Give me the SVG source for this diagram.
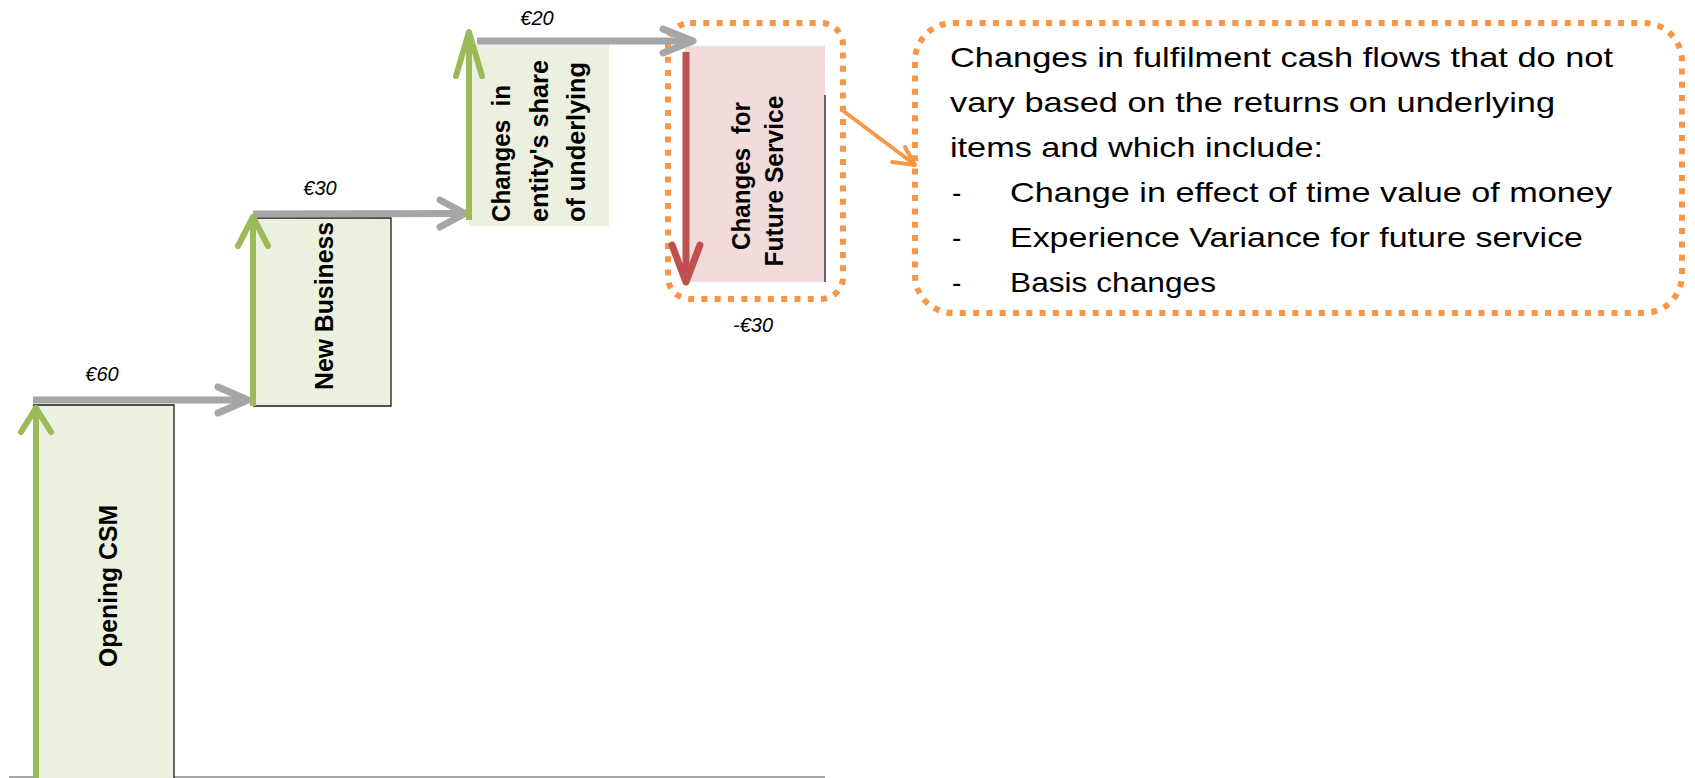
<svg xmlns="http://www.w3.org/2000/svg" width="1695" height="778" viewBox="0 0 1695 778">
<style>
.gbox{fill:#EBF1DE;stroke:none}
.pbox{fill:#F2DCDB;stroke:none}
.edge{stroke:#1a1a1a;stroke-width:1.3;fill:none}
.lbl{font-family:"Liberation Sans",Arial,sans-serif;font-weight:bold;font-size:26px;fill:#000}
.val{font-family:"Liberation Sans",Arial,sans-serif;font-style:italic;font-size:20px;fill:#000;text-anchor:middle}
.txt{font-family:"Liberation Sans",Arial,sans-serif;font-size:28px;fill:#000}
.gray{stroke:#A6A6A6;stroke-width:7;fill:none;stroke-linejoin:round}
.grayh{stroke:#A6A6A6;stroke-width:7;fill:none;stroke-linecap:round;stroke-linejoin:round}
.green{stroke:#9BBB59;stroke-width:6;fill:none}
.greenh{stroke:#9BBB59;stroke-width:6;fill:none;stroke-linecap:round;stroke-linejoin:round}
.red{stroke:#C0504D;stroke-width:7;fill:none}
.redh{stroke:#C0504D;stroke-width:7;fill:none;stroke-linecap:round;stroke-linejoin:round}
.orange{stroke:#F79646;stroke-width:4;fill:none;stroke-linecap:round;stroke-linejoin:round}
.dotted{fill:none;stroke:#F79646;stroke-width:6;stroke-dasharray:6 7.3}
.base{stroke:#A6A6A6;stroke-width:2;fill:none}
</style>

<line class="base" x1="9" y1="777" x2="825" y2="777"/>

<g id="opening-csm">
  <rect class="gbox" x="33" y="405" width="141" height="373"/>
  <polyline class="edge" points="33,405 174,405 174,778"/>
  <text class="lbl" x="117" y="586" text-anchor="middle" textLength="162" lengthAdjust="spacingAndGlyphs" transform="rotate(-90 117 586)">Opening CSM</text>
  <text class="val" x="102" y="381">€60</text>
</g>

<g id="new-business">
  <rect class="gbox" x="253" y="218" width="138" height="188"/>
  <polyline class="edge" points="253,218 391,218 391,406 253,406"/>
  <text class="lbl" x="333" y="306" text-anchor="middle" textLength="168" lengthAdjust="spacingAndGlyphs" transform="rotate(-90 333 306)">New Business</text>
  <text class="val" x="320" y="195">€30</text>
</g>

<g id="entity-share">
  <rect class="gbox" x="469" y="45" width="140" height="181"/>
  <text class="lbl" x="510" y="222" textLength="137" lengthAdjust="spacingAndGlyphs" transform="rotate(-90 510 222)" xml:space="preserve">Changes  in</text>
  <text class="lbl" x="548" y="222" textLength="162" lengthAdjust="spacingAndGlyphs" transform="rotate(-90 548 222)">entity's share</text>
  <text class="lbl" x="585" y="222" textLength="160" lengthAdjust="spacingAndGlyphs" transform="rotate(-90 585 222)">of underlying</text>
  <text class="val" x="537" y="25">€20</text>
</g>

<g id="future-service">
  <rect class="pbox" x="685" y="46" width="140" height="236"/>
  <line class="edge" x1="825" y1="95" x2="825" y2="282"/>
  <text class="lbl" x="750" y="176" text-anchor="middle" textLength="148" lengthAdjust="spacingAndGlyphs" transform="rotate(-90 750 176)" xml:space="preserve">Changes  for</text>
  <text class="lbl" x="783" y="181" text-anchor="middle" textLength="171" lengthAdjust="spacingAndGlyphs" transform="rotate(-90 783 181)">Future Service</text>
  <rect class="dotted" x="668" y="23" width="175" height="276" rx="22" ry="22"/>
  <text class="val" x="753" y="332">-€30</text>
</g>

<g id="callout">
  <rect class="dotted" x="915" y="23" width="767" height="290" rx="38" ry="38"/>
  <text class="txt" x="950" y="67" textLength="663" lengthAdjust="spacingAndGlyphs">Changes in fulfilment cash flows that do not</text>
  <text class="txt" x="950" y="112" textLength="605" lengthAdjust="spacingAndGlyphs">vary based on the returns on underlying</text>
  <text class="txt" x="950" y="157" textLength="373" lengthAdjust="spacingAndGlyphs">items and which include:</text>
  <text class="txt" x="952" y="202">-</text>
  <text class="txt" x="1010" y="202" textLength="602" lengthAdjust="spacingAndGlyphs">Change in effect of time value of money</text>
  <text class="txt" x="952" y="247">-</text>
  <text class="txt" x="1010" y="247" textLength="573" lengthAdjust="spacingAndGlyphs">Experience Variance for future service</text>
  <text class="txt" x="952" y="292">-</text>
  <text class="txt" x="1010" y="292" textLength="206" lengthAdjust="spacingAndGlyphs">Basis changes</text>
</g>

<g id="connectors">
  <line class="gray" x1="33" y1="400" x2="245" y2="400"/>
  <path class="grayh" d="M218,387 L248,400 L218,413"/>
  <line class="gray" x1="253" y1="214" x2="462" y2="213.5"/>
  <path class="grayh" d="M440,200 L465,213.5 L440,227"/>
  <line class="gray" x1="477" y1="41" x2="690" y2="41"/>
  <path class="grayh" d="M663,29 L693,41 L663,53"/>

  <line class="green" x1="36" y1="778" x2="36" y2="411"/>
  <path class="greenh" d="M21,432 L36,408 L51,432"/>
  <line class="green" x1="253" y1="406" x2="253" y2="220"/>
  <path class="greenh" d="M238,246 L253,217 L268,246"/>
  <line class="green" x1="469" y1="220" x2="469" y2="35"/>
  <path class="greenh" d="M456,76 L469,32 L482,76"/>

  <line class="red" x1="686" y1="52" x2="686" y2="279"/>
  <path class="redh" d="M672,245 L686,282 L700,245"/>

  <line class="orange" x1="842" y1="110" x2="914" y2="164"/>
  <path class="orange" d="M892,162 L915,165 L905,147"/>
</g>
</svg>
